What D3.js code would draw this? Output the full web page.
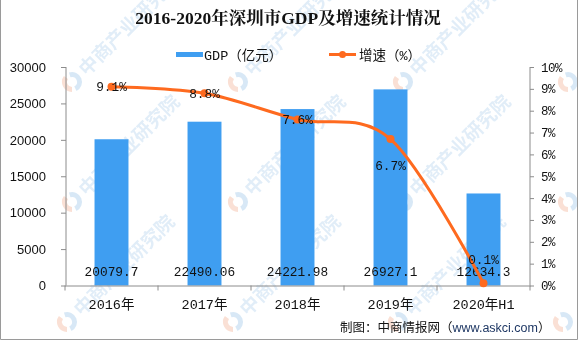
<!DOCTYPE html>
<html><head><meta charset="utf-8">
<script src="https://cdn.jsdelivr.net/npm/d3@7"></script>
<style>
html,body{margin:0;padding:0;background:#fff;}
svg{display:block;}
</style></head>
<body>
<svg id="chart" width="579" height="343"></svg>
<script>
const title = "2016-2020年深圳市GDP及增速统计情况";
const categories = ["2016年","2017年","2018年","2019年","2020年H1"];
const gdpValues = [20079.7, 22490.06, 24221.98, 26927.1, 12634.3];
const gdpLabels = ["20079.7","22490.06","24221.98","26927.1","12634.3"];
const growthValues = [9.1, 8.8, 7.6, 6.7, 0.1];
const growthLabels = ["9.1%","8.8%","7.6%","6.7%","0.1%"];
const leftTicks = [0,5000,10000,15000,20000,25000,30000];
const rightTicks = [0,1,2,3,4,5,6,7,8,9,10];
const legendNames = ["GDP（亿元）","增速（%）"];
const sourceParts = ["制图：中商情报网（","www.askci.com","）"];
const watermarkText = "中商产业研究院";

const svg = d3.select("#chart");
const W = 579, H = 343;
const m = {left:66, right:530, top:67, bottom:285.5};
const barColor = "#3f9ef1", lineColor = "#fe6a1f", axisColor = "#8c8c8c";
const mono = "'Liberation Mono','Noto Sans CJK SC',monospace";
const cjk = "'Noto Sans CJK SC',sans-serif";

// watermark
const wm = svg.append("g").attr("opacity",0.55);
const wmX = [72, 238, 403];
const wmY = [82, 202, 322];
wmY.forEach((yy,ri)=>{
  wmX.forEach(xx=>{
    const x0 = xx - (ri===2?5:0);
    const g = wm.append("g").attr("transform",`translate(${x0},${yy}) rotate(-45)`);
    g.append("path").attr("d", d3.arc()({innerRadius:5,outerRadius:10,startAngle:Math.PI*0.15,endAngle:Math.PI*1.1}))
      .attr("fill","#b9d6ee");
    g.append("path").attr("d", d3.arc()({innerRadius:5,outerRadius:10,startAngle:-Math.PI*0.75,endAngle:-Math.PI*0.05}))
      .attr("fill","#f6c7b2");
    g.append("text").attr("x",14).attr("y",7).text(watermarkText)
      .attr("font-family",cjk).attr("font-weight","bold").attr("font-size",19)
      .attr("fill","#c9dff2");
  });
});
// edge logos (partial watermarks)
[[568,82],[568,202],[563,322]].forEach(([xx,yy])=>{
  const g = wm.append("g").attr("transform",`translate(${xx},${yy}) rotate(-45)`);
  g.append("path").attr("d", d3.arc()({innerRadius:5,outerRadius:10,startAngle:Math.PI*0.15,endAngle:Math.PI*1.1})).attr("fill","#b9d6ee");
  g.append("path").attr("d", d3.arc()({innerRadius:5,outerRadius:10,startAngle:-Math.PI*0.75,endAngle:-Math.PI*0.05})).attr("fill","#f6c7b2");
});

// border
svg.append("path").attr("d",`M0.5,0V339.5H577.5V0`).attr("fill","none").attr("stroke","#9a9a9a").attr("stroke-width",1);

const x = d3.scaleBand().domain(categories).range([m.left-1, m.right]).paddingInner(0.635).paddingOuter(0.3175);
const xOuter = d3.scaleBand().domain(categories).range([m.left-1, m.right]);
const yL = d3.scaleLinear().domain([0,30000]).range([m.bottom, m.top]);
const yR = d3.scaleLinear().domain([0,10]).range([m.bottom, m.top]);

// title
svg.append("text").attr("x",288).attr("y",24).attr("text-anchor","middle")
  .attr("font-family","'Liberation Serif','Noto Serif CJK SC','Noto Sans CJK SC',serif")
  .attr("font-weight","bold").attr("font-size",17.5).attr("fill","#111").text(title);

// legend
const lg = svg.append("g");
lg.append("rect").attr("x",176).attr("y",52).attr("width",27).attr("height",5).attr("fill",barColor);
lg.append("text").attr("x",204).attr("y",59.5).text(legendNames[0]).attr("font-family",mono).attr("font-size",13.5).attr("fill","#111");
lg.append("line").attr("x1",329).attr("x2",356).attr("y1",54.5).attr("y2",54.5).attr("stroke",lineColor).attr("stroke-width",3);
lg.append("circle").attr("cx",342.5).attr("cy",54.5).attr("r",3.5).attr("fill",lineColor);
lg.append("text").attr("x",359).attr("y",59.5).text(legendNames[1]).attr("font-family",mono).attr("font-size",13.5).attr("fill","#111");

// bars
svg.append("g").selectAll("rect").data(gdpValues).join("rect")
  .attr("x",(d,i)=>x(categories[i])).attr("width",x.bandwidth())
  .attr("y",d=>yL(d)).attr("height",d=>yL(0)-yL(d)).attr("fill",barColor);

// axes
const axL = svg.append("g").attr("transform",`translate(${m.left},0)`)
  .call(d3.axisLeft(yL).tickValues(leftTicks).tickSize(5).tickPadding(15).tickFormat(d3.format("d")));
const axR = svg.append("g").attr("transform",`translate(${m.right},0)`)
  .call(d3.axisRight(yR).tickValues(rightTicks).tickSize(4).tickPadding(7).tickFormat(d=>d+"%"));
const axB = svg.append("g").attr("transform",`translate(0,${m.bottom})`)
  .call(d3.axisBottom(xOuter).tickSize(0).tickPadding(14));
[axL,axR,axB].forEach(a=>{
  a.select(".domain").attr("stroke",axisColor);
  a.selectAll(".tick line").attr("stroke",axisColor);
});
axL.select(".domain").attr("d",`M0,${m.top}V${m.bottom}`);
axR.select(".domain").attr("d",`M0,${m.top}V${m.bottom}`);
axL.selectAll("text").attr("font-family","'Liberation Sans',Arial,sans-serif").attr("font-size",13).attr("fill","#111");
axR.selectAll("text").attr("font-family",mono).attr("font-size",12.5).attr("fill","#111").attr("letter-spacing","-0.5");
axB.selectAll("text").attr("font-family",mono).attr("font-size",13.5).attr("fill","#111");
const bounds = categories.map(c=>xOuter(c)).concat([xOuter(categories[4])+xOuter.bandwidth()]);
axB.selectAll(".bt").data(bounds).join("line").attr("class","bt")
  .attr("x1",d=>d).attr("x2",d=>d).attr("y1",0).attr("y2",5).attr("stroke",axisColor);

// bar labels
svg.append("g").selectAll("text").data(gdpLabels).join("text")
  .attr("x",(d,i)=>x(categories[i])+x.bandwidth()/2).attr("y",275.5)
  .attr("text-anchor","middle").attr("font-family",mono).attr("font-size",12.8).attr("fill","#111").text(d=>d);

// line
const cx = i => x(categories[i]) + x.bandwidth()/2;
const line = d3.line().x((d,i)=>cx(i)).y(d=>yR(d)).curve(d3.curveCatmullRom.alpha(0));
svg.append("path").datum(growthValues).attr("d",line).attr("fill","none")
  .attr("stroke",lineColor).attr("stroke-width",3);
svg.append("g").selectAll("circle").data(growthValues).join("circle")
  .attr("cx",(d,i)=>cx(i)).attr("cy",d=>yR(d)).attr("r",4).attr("fill",lineColor);

// growth labels
const labOff = [0,0,0,26,-24];
svg.append("g").selectAll("text").data(growthLabels).join("text")
  .attr("x",(d,i)=>cx(i)).attr("y",(d,i)=>yR(growthValues[i])+labOff[i]+4.5)
  .attr("text-anchor","middle").attr("font-family",mono).attr("font-size",12.8).attr("fill","#111").text(d=>d);

// source
const src = svg.append("text").attr("x",340).attr("y",332).attr("font-family",cjk).attr("font-size",12.5).attr("fill","#111");
src.append("tspan").text(sourceParts[0]);
src.append("tspan").text(sourceParts[1]).attr("fill","#1f3864").attr("font-family","'Liberation Sans',Arial,sans-serif");
src.append("tspan").text(sourceParts[2]);
</script>
</body></html>
